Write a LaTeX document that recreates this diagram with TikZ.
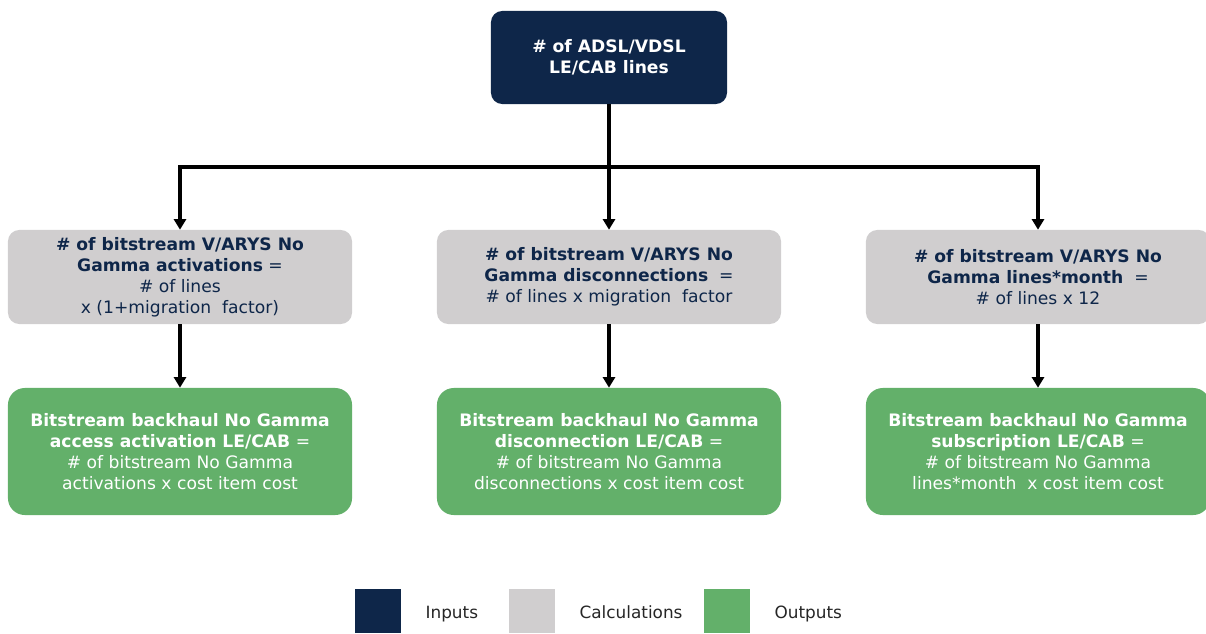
\documentclass[tikz,border=0pt]{standalone}
\usepackage{fontspec}
\setmainfont{DejaVu Sans}
\usepackage{xcolor}
\usepackage{tikz}
\usetikzlibrary{positioning, arrows.meta}
\tikzset{>={Triangle[length=7.5pt, width=8.5pt]}}

\definecolor{inputblue}{RGB}{14,38,73}
\definecolor{calcgray}{RGB}{208,206,207}
\definecolor{outgreen}{RGB}{99,176,106}

\begin{document}
\begin{tikzpicture}[x=0.025cm, y=-0.025cm]
    % Define node styles
    \tikzstyle{inbox} = [rectangle, rounded corners=8pt, fill=inputblue, text=white, align=center,
                         minimum width=5.9cm, minimum height=2.325cm,
                         font=\fontsize{12.2}{15}\selectfont\bfseries]
    \tikzstyle{calcbox} = [rectangle, rounded corners=8pt, fill=calcgray, text=inputblue, align=center,
                           minimum width=8.6cm, minimum height=2.35cm,
                           font=\fontsize{12.2}{15}\selectfont]
    \tikzstyle{outbox} = [rectangle, rounded corners=12pt, fill=outgreen, text=white, align=center,
                          minimum width=8.6cm, minimum height=3.175cm,
                          font=\fontsize{12.2}{15}\selectfont]
    \tikzstyle{key} = [rectangle, minimum width=1.15cm, minimum height=1.1cm, inner sep=0pt]
    \tikzstyle{keylabel} = [inner sep=0pt, text height=1.6ex, text depth=0.4ex, text=black!85,
                            yshift=-2.2pt, font=\fontsize{12}{15}\selectfont]
    \tikzstyle{link} = [->, line width=2.4pt]

    \useasboundingbox (0,0) rectangle (1206,633);

    % Input
    \node[inbox] (lines) at (609,57.5) {\# of ADSL/VDSL\\LE/CAB lines};

    % Calculations
    \node[calcbox] (activ) at (180,277)
        {\textbf{\# of bitstream V/ARYS No}\\\textbf{Gamma activations} =\\\# of lines\\x (1+migration~ factor)};
    \node[calcbox] (disc) at (609,277)
        {\textbf{\# of bitstream V/ARYS No}\\\textbf{Gamma disconnections} ~=\\\# of lines x migration~ factor};
    \node[calcbox] (month) at (1038,277)
        {\textbf{\# of bitstream V/ARYS No}\\\textbf{Gamma lines*month} ~=\\\# of lines x 12};

    % Outputs
    \node[outbox] (actcost) at (180,451.5)
        {\textbf{Bitstream backhaul No Gamma}\\\textbf{access activation LE/CAB} =\\\# of bitstream No Gamma\\activations x cost item cost};
    \node[outbox] (disccost) at (609,451.5)
        {\textbf{Bitstream backhaul No Gamma}\\\textbf{disconnection LE/CAB} =\\\# of bitstream No Gamma\\disconnections x cost item cost};
    \node[outbox] (subcost) at (1038,451.5)
        {\textbf{Bitstream backhaul No Gamma}\\\textbf{subscription LE/CAB} =\\\# of bitstream No Gamma\\lines*month~ x cost item cost};

    % Arrows
    \coordinate (split) at (609,167);
    \draw[line width=2.4pt] (lines) -- (split);
    \draw[link] (split) -| (activ);
    \draw[link] (split) -- (disc);
    \draw[link] (split) -| (month);
    \draw[link] (activ) -- (actcost);
    \draw[link] (disc) -- (disccost);
    \draw[link] (month) -- (subcost);

    % Legend
    \node[key, fill=inputblue] (kin) at (378,611) {};
    \node[keylabel, right=0.6cm of kin] (lin) {Inputs};
    \node[key, fill=calcgray] (kcalc) at (532,611) {};
    \node[keylabel, right=0.6cm of kcalc] (lcalc) {Calculations};
    \node[key, fill=outgreen] (kout) at (727,611) {};
    \node[keylabel, right=0.6cm of kout] (lout) {Outputs};
\end{tikzpicture}
\end{document}
